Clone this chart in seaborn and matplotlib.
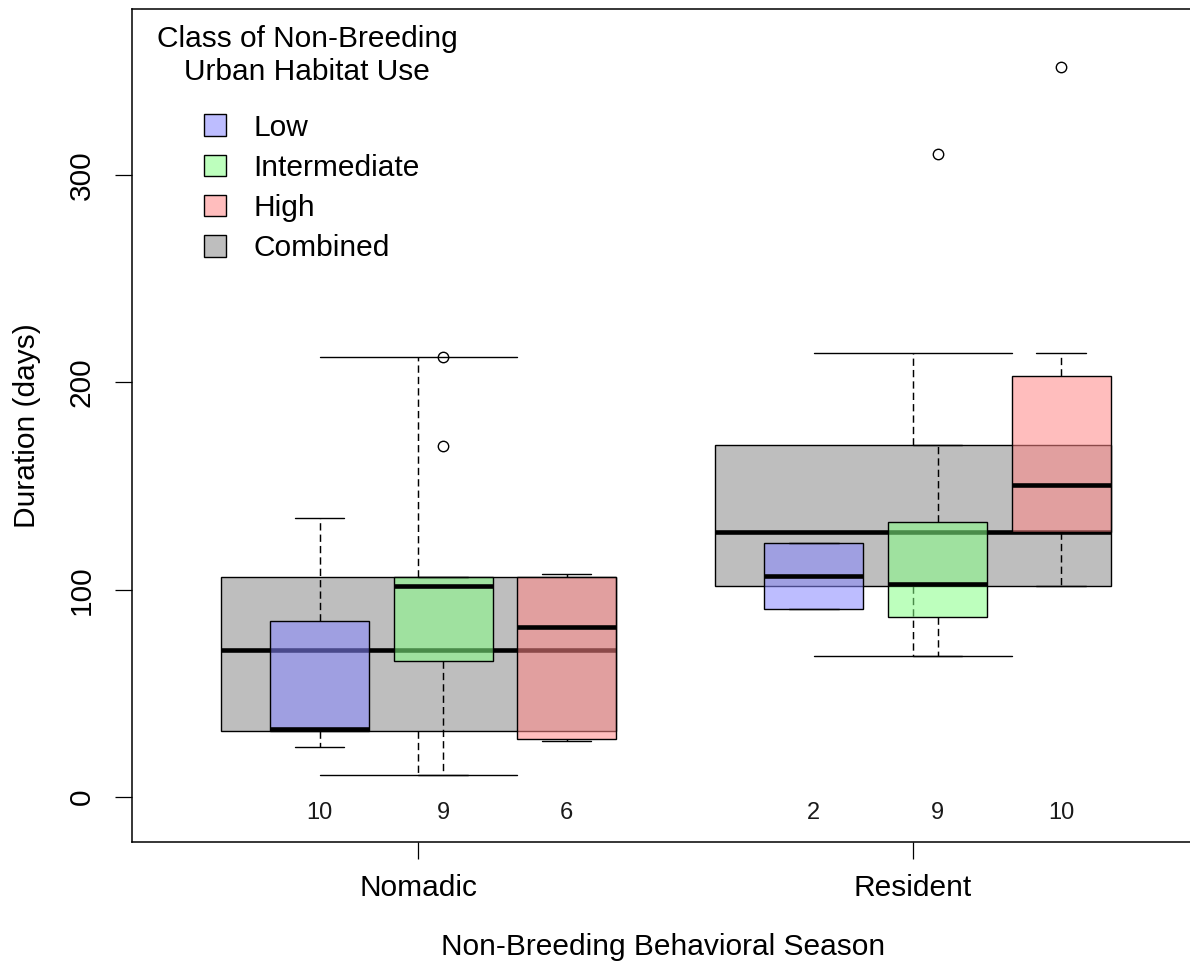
import matplotlib
matplotlib.use("Agg")
import matplotlib.pyplot as plt
from matplotlib.patches import Patch
import seaborn as sns

# ---- data -------------------------------------------------------------
seasons = ["Nomadic", "Resident"]
classes = ["Low", "Intermediate", "High"]

# box summaries per season: [lower whisker, Q1, median, Q3, upper whisker]
low_stats = [[24.3, 31.8, 33.0, 85.1, 134.8],
             [90.5, 90.5, 106.6, 122.7, 122.7]]
intermediate_stats = [[10.6, 65.5, 101.6, 106.0, 106.0],
                      [68.0, 87.0, 102.7, 132.5, 169.9]]
high_stats = [[27.2, 27.8, 82.2, 106.1, 107.7],
              [101.9, 128.0, 150.6, 202.9, 214.3]]
combined_stats = [[10.6, 31.7, 70.8, 106.1, 212.2],
                  [68.0, 101.9, 128.0, 169.9, 214.3]]

# points beyond the whiskers
low_outliers = [[], []]
intermediate_outliers = [[169.3, 212.2], [310.1]]
high_outliers = [[], [352.1]]
combined_outliers = [[], []]

# sample sizes
low_n = [10, 2]
intermediate_n = [9, 9]
high_n = [6, 10]

yticks = [0, 100, 200, 300]

# ---- styling ----------------------------------------------------------
sns.set_theme(style="ticks")
plt.rcParams["font.family"] = ["Liberation Sans", "DejaVu Sans"]
plt.rcParams["text.color"] = "black"
plt.rcParams["axes.labelcolor"] = "black"

class_colors = {"Low": (0.53, 0.53, 1.0, 0.55),
                "Intermediate": (0.53, 1.0, 0.53, 0.55),
                "High": (1.0, 0.53, 0.53, 0.55)}
combined_color = "#bebebe"

group_centers = [1.8, 5.8]
class_offsets = [-0.8, 0.2, 1.2]
combined_width = 3.2
class_width = 0.8

fig = plt.figure(figsize=(11.9, 9.65), dpi=100)
ax = fig.add_axes([132 / 1190, 1 - 842 / 965, 1063 / 1190, 833 / 965])

dash = (0, (5, 2.8))


def summaries(stats, outliers):
    out = []
    for s, f in zip(stats, outliers):
        out.append(dict(whislo=s[0], q1=s[1], med=s[2], q3=s[3], whishi=s[4],
                        fliers=f))
    return out


def draw(stats, outliers, positions, width, color, z):
    ax.bxp(summaries(stats, outliers), positions=positions, widths=width,
           capwidths=width / 2, patch_artist=True, showfliers=True,
           boxprops=dict(facecolor=color, edgecolor="black", linewidth=1.0),
           medianprops=dict(color="black", linewidth=3.3, solid_capstyle="butt"),
           whiskerprops=dict(color="black", linewidth=1.05, linestyle=dash),
           capprops=dict(color="black", linewidth=1.0),
           flierprops=dict(marker="o", markerfacecolor="none",
                           markeredgecolor="black", markersize=7.5,
                           markeredgewidth=1.0),
           zorder=z, manage_ticks=False)


# combined boxes go underneath the per-class boxes
draw(combined_stats, combined_outliers, group_centers, combined_width,
     combined_color, 2)

class_series = [(low_stats, low_outliers, low_n),
                (intermediate_stats, intermediate_outliers, intermediate_n),
                (high_stats, high_outliers, high_n)]
for k, (cls, (st, outl, n)) in enumerate(zip(classes, class_series)):
    pos = [c + class_offsets[k] for c in group_centers]
    draw(st, outl, pos, class_width, class_colors[cls], 3)
    for p, count in zip(pos, n):
        ax.text(p, -7.7, str(count), ha="center", va="center",
                fontsize=17, color="#1a1a1a")

ax.set_xlim(-0.517, 8.083)
ax.set_ylim(-21.7, 380.1)
ax.set_xticks(group_centers)
ax.set_xticklabels(seasons)
ax.set_yticks(yticks)
ax.set_yticklabels([str(v) for v in yticks], rotation=90, va="center")

for sp in ax.spines.values():
    sp.set_linewidth(1.1)
    sp.set_color("black")
    sp.set_visible(True)

ax.tick_params(axis="both", direction="out", length=12.2, width=0.9,
               color="black", labelsize=21.5, labelcolor="black")
ax.tick_params(axis="x", pad=11)
ax.tick_params(axis="y", pad=14)

ax.set_xlabel("Non-Breeding Behavioral Season", fontsize=21.5, labelpad=22)
ax.set_ylabel("Duration (days)", fontsize=21.5, labelpad=19)

# legend
handles = [Patch(facecolor=class_colors[c], edgecolor="black", linewidth=1.0,
                 label=c) for c in classes]
handles.append(Patch(facecolor=combined_color, edgecolor="black",
                     linewidth=1.0, label="Combined"))
leg = ax.legend(handles=handles, loc="upper left",
                bbox_to_anchor=(0.0677, 0.8745), frameon=False, fontsize=21.5,
                handlelength=0.73, handleheight=0.73, handletextpad=0.93,
                labelspacing=0.41, borderpad=0, borderaxespad=0)
for t in leg.get_texts():
    t.set_color("black")
ax.text(0.1646, 0.981, "Class of Non-Breeding\nUrban Habitat Use",
        transform=ax.transAxes, ha="center", va="top", multialignment="center",
        fontsize=21.5, linespacing=1.25, color="black")

fig.savefig("out.png", dpi=100)
